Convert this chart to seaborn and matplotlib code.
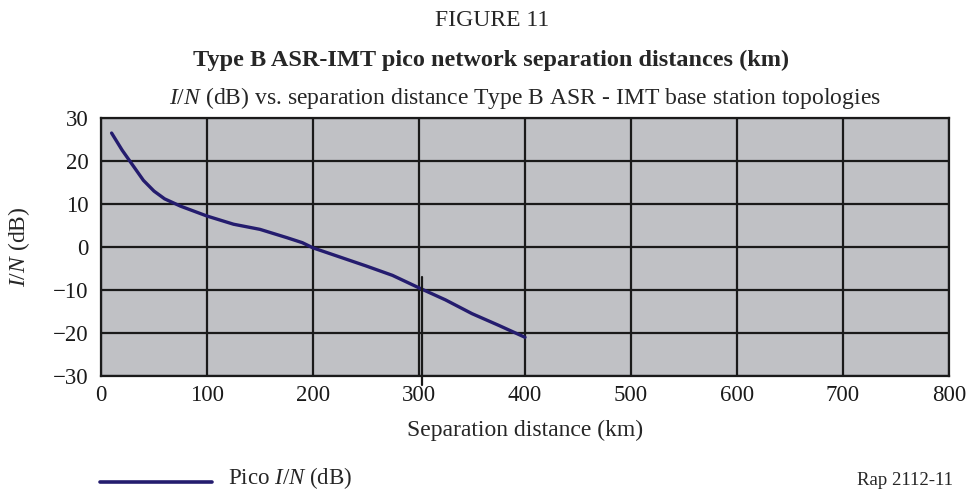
import matplotlib
matplotlib.use("Agg")
import matplotlib.pyplot as plt
import seaborn as sns
import pandas as pd

# Pico network I/N versus separation distance
distance_km = [10, 20, 30, 40, 50, 60, 75, 100, 125, 150, 175, 190, 200,
               225, 250, 275, 300, 325, 350, 375, 400]
pico_in_db = [26.5, 22.5, 19.0, 15.5, 13.0, 11.2, 9.5, 7.2, 5.3, 4.1, 2.2, 1.0, -0.2,
              -2.3, -4.4, -6.6, -9.5, -12.3, -15.5, -18.2, -21.0]

# Marker at the separation distance where I/N reaches -10 dB
marker_km = 303
marker_top_db = -7

x_ticks = [0, 100, 200, 300, 400, 500, 600, 700, 800]
y_ticks = [30, 20, 10, 0, -10, -20, -30]

sns.set_theme(style="white")
plt.rcParams["font.family"] = ["Liberation Serif", "DejaVu Serif"]
plt.rcParams["mathtext.fontset"] = "custom"
plt.rcParams["mathtext.rm"] = "Liberation Serif"
plt.rcParams["mathtext.it"] = "Liberation Serif:italic"

df = pd.DataFrame({"distance": distance_km, "in_db": pico_in_db})

W, H = 970, 492
fig = plt.figure(figsize=(W / 100, H / 100), dpi=100)
ax = fig.add_axes([101 / W, 1 - 376 / H, 848 / W, 258 / H])
ax.set_facecolor("#c0c1c5")

sns.lineplot(data=df, x="distance", y="in_db", ax=ax, color="#241c6e",
             linewidth=2.4, zorder=3, label=None)
ax.plot([marker_km, marker_km], [marker_top_db, -32], color="#1a1a1a",
        linewidth=1.6, zorder=4, clip_on=False)

ax.set_xlim(0, 800)
ax.set_ylim(-30, 30)
ax.set_xticks(x_ticks)
ax.set_yticks(y_ticks)
ax.set_yticklabels([str(v).replace("-", "\u2212") for v in y_ticks])
ax.grid(True, color="#1a1a1a", linewidth=1.6)
ax.set_axisbelow(False)
for s in ax.spines.values():
    s.set_color("#1a1a1a")
    s.set_linewidth(1.6)
ax.tick_params(axis="x", length=3.6, width=1.6, direction="out", labelsize=16.5,
               pad=3, colors="#1a1a1a")
ax.tick_params(axis="y", length=0, labelsize=16.5, pad=9, colors="#1a1a1a")

ax.set_xlabel("Separation distance (km)", fontsize=17)
ax.xaxis.set_label_coords(0.5, (376 - 420) / 258)
ax.set_ylabel(r"$\it{I/N}$ (dB)", fontsize=17)
ax.yaxis.set_label_coords(-0.081, 0.5)

# Subtitle sitting just above the plotting area
ax.text(0.5, 1.054, r"$\it{I/N}$ (dB) vs. separation distance Type B ASR - IMT base station topologies",
        transform=ax.transAxes, ha="center", va="baseline", fontsize=17)

fig.text(492 / W, 1 - 20 / H, "FIGURE 11", ha="center", va="center", fontsize=17)
fig.text(491 / W, 1 - 60 / H, "Type B ASR-IMT pico network separation distances (km)",
         ha="center", va="center", fontsize=17.5, fontweight="bold")

# Legend drawn below the axes (y measured downward from its top edge)
lax = fig.add_axes([0, 0, 1, 34 / H])
lax.set_axis_off()
lax.set_xlim(0, W)
lax.set_ylim(34, 0)
lax.plot([100, 212], [24, 24], color="#241c6e", linewidth=2.6)
lax.text(228, 26.5, r"Pico $\it{I/N}$ (dB)", fontsize=16.5, va="baseline", ha="left")
lax.text(857, 27, "Rap 2112-11", fontsize=13.5, va="baseline", ha="left")

fig.savefig("out.png", dpi=100)
